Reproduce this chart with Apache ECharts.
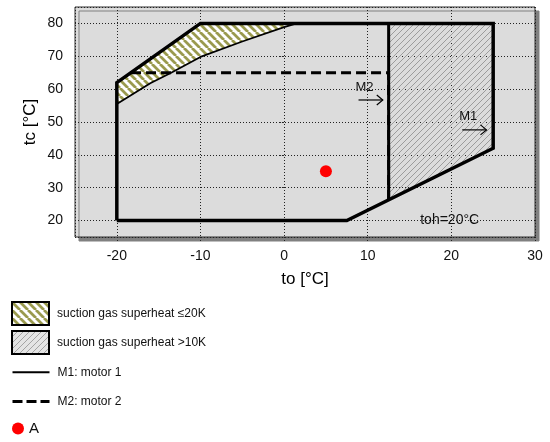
<!DOCTYPE html>
<html>
<head>
<meta charset="utf-8">
<script src="https://cdn.jsdelivr.net/npm/echarts@6/dist/echarts.min.js"></script>
<style>
  html, body { margin: 0; padding: 0; background: #fff; }
  #chart { width: 550px; height: 442px; }
</style>
</head>
<body>
<div id="chart"></div>
<script>
// axis ranges
const xRange = [-25, 30]
const yRange = [15, 85]

// envelope of motor 1 (closed), motor 2 limit, divider of the >10K area
const motor1 = [[-20, 20], [-20, 62], [-10, 80], [25, 80], [25, 42], [7.5, 20], [-20, 20]]
const motor2 = [[-18.3, 65], [12.5, 65], [12.5, 26.3]]
const divider = [[12.5, 80], [12.5, 26.3]]
// superheat <=20K band: upper edge follows the envelope, lower edge is a curve
const band20Upper = [[-20, 62], [-10, 80], [1.5, 80]]
const band20Curve = [[-20, 55.5], [-16, 61.8], [-13.5, 65], [-10, 69.8], [-5, 74.5], [0, 78.9], [1.5, 80]]
// superheat >10K area
const band10 = [[12.5, 80], [25, 80], [25, 42], [12.5, 26.3]]
// operating point A
const pointA = [[5, 35]]
// annotations: arrow start / end and their labels
const arrowLabels = ['M2', 'M1']
const arrowFrom = [[8.9, 56.7], [21.3, 47.6]]
const arrowTo = [[11.8, 56.7], [24.2, 47.6]]
const noteText = 'toh=20°C'
const notePos = [19.8, 20]

const FONT = 'Liberation Sans, Arial, sans-serif'

// diagonal hatch pattern on a small canvas
function makeHatch (bg, fg, size, lw, dir) {
  const c = document.createElement('canvas')
  c.width = size
  c.height = size
  const ctx = c.getContext('2d')
  if (bg) {
    ctx.fillStyle = bg
    ctx.fillRect(0, 0, size, size)
  }
  ctx.strokeStyle = fg
  ctx.lineWidth = lw
  ctx.beginPath()
  for (let k = -1; k <= 1; k++) {
    if (dir === '\\') {
      ctx.moveTo(k * size, 0)
      ctx.lineTo(k * size + size, size)
    } else {
      ctx.moveTo(k * size, size)
      ctx.lineTo(k * size + size, 0)
    }
  }
  ctx.stroke()
  return { image: c, repeat: 'repeat' }
}

const oliveHatch = makeHatch('#ffffff', '#9a9a4e', 8, 2.8, '\\')
const greyHatch = makeHatch(null, '#9c9c9c', 6, 1, '/')
const greyHatchLegend = makeHatch('#e4e4e4', '#a4a4a4', 6, 1, '/')

const band20Poly = band20Upper.concat(band20Curve.slice().reverse())

function polygonSeries (name, pts, fill) {
  return {
    name: name,
    type: 'custom',
    coordinateSystem: 'cartesian2d',
    data: pts,
    encode: { x: 0, y: 1 },
    itemStyle: { color: fill, borderColor: '#000', borderWidth: 2 },
    z: 1,
    silent: true,
    renderItem: function (params, api) {
      if (params.dataIndex !== 0) return
      return {
        type: 'polygon',
        shape: { points: pts.map(p => api.coord(p)) },
        style: { fill: fill, stroke: null }
      }
    }
  }
}

const chart = echarts.init(document.getElementById('chart'), null, { renderer: 'canvas' })

const legendText = { fontSize: 12, color: '#111', fontFamily: FONT, padding: [0, 0, 0, 3] }
const hiddenSymbol = { color: 'rgba(0,0,0,0)', borderColor: 'rgba(0,0,0,0)', borderWidth: 0 }

const option = {
  animation: false,
  textStyle: { fontFamily: FONT },
  grid: {
    left: 75,
    top: 7,
    right: 15,
    bottom: 205,
    show: true,
    backgroundColor: '#dcdcdc',
    borderColor: '#333',
    borderWidth: 1,
    shadowColor: '#808080',
    shadowOffsetX: 4,
    shadowOffsetY: 4,
    shadowBlur: 0
  },
  xAxis: {
    type: 'value',
    min: xRange[0],
    max: xRange[1],
    name: 'to [°C]',
    nameLocation: 'middle',
    nameGap: 34,
    nameTextStyle: { fontSize: 17, color: '#000', fontFamily: FONT },
    axisLine: { show: false },
    axisTick: { show: true, length: 4, lineStyle: { color: '#222', type: [1, 2] } },
    axisLabel: { fontSize: 14, color: '#111', margin: 12, showMinLabel: false, fontFamily: FONT },
    splitLine: { show: true, lineStyle: { color: '#222', type: [1, 2], width: 1 } }
  },
  yAxis: {
    type: 'value',
    min: yRange[0],
    max: yRange[1],
    name: 'tc [°C]',
    nameLocation: 'middle',
    nameGap: 36,
    nameMoveOverlap: false,
    nameTextStyle: { fontSize: 17, color: '#000', fontFamily: FONT },
    axisLine: { show: false },
    axisTick: { show: true, length: 4, lineStyle: { color: '#222', type: [1, 2] } },
    axisLabel: { fontSize: 14, color: '#111', margin: 12, showMinLabel: false, showMaxLabel: false, fontFamily: FONT },
    splitLine: { show: true, lineStyle: { color: '#222', type: [1, 2], width: 1 } }
  },
  legend: [
    {
      orient: 'vertical',
      left: 6,
      top: 296,
      itemWidth: 37,
      itemHeight: 23,
      itemGap: 4,
      selectedMode: false,
      textStyle: legendText,
      data: [
        { name: 'suction gas superheat ≤20K', icon: 'rect', itemStyle: { color: oliveHatch, borderColor: '#000', borderWidth: 2 } },
        { name: 'suction gas superheat >10K', icon: 'rect', itemStyle: { color: greyHatchLegend, borderColor: '#000', borderWidth: 2 } }
      ]
    },
    {
      orient: 'vertical',
      left: 6,
      top: 358,
      itemWidth: 37,
      itemHeight: 23,
      itemGap: 11,
      selectedMode: false,
      textStyle: legendText,
      data: [
        { name: 'M1: motor 1', itemStyle: hiddenSymbol, lineStyle: { color: '#000', width: 2, type: 'solid' } },
        { name: 'M2: motor 2', itemStyle: hiddenSymbol, lineStyle: { color: '#000', width: 3, type: [10, 4] } }
      ]
    },
    {
      orient: 'vertical',
      left: 7,
      top: 416,
      itemWidth: 12,
      itemHeight: 12,
      selectedMode: false,
      textStyle: { fontSize: 15, color: '#111', fontFamily: FONT },
      data: [{ name: 'A', icon: 'circle' }]
    }
  ],
  series: [
    polygonSeries('suction gas superheat ≤20K', band20Poly, oliveHatch),
    polygonSeries('suction gas superheat >10K', band10, greyHatch),
    {
      name: 'curve20',
      type: 'line',
      data: band20Curve,
      symbol: 'none',
      z: 3,
      lineStyle: { color: '#000', width: 1.8 }
    },
    {
      name: 'M2: motor 2',
      type: 'line',
      data: motor2,
      symbol: 'none',
      z: 4,
      itemStyle: { color: '#000' },
      lineStyle: { color: '#000', width: 3, type: [10, 5] }
    },
    {
      name: 'divider',
      type: 'line',
      data: divider,
      symbol: 'none',
      z: 4,
      lineStyle: { color: '#000', width: 3 }
    },
    {
      name: 'M1: motor 1',
      type: 'line',
      data: motor1,
      symbol: 'none',
      z: 5,
      itemStyle: { color: '#000' },
      lineStyle: { color: '#000', width: 3.5, join: 'miter' }
    },
    {
      name: 'A',
      type: 'scatter',
      data: pointA,
      symbol: 'circle',
      symbolSize: 12,
      z: 6,
      itemStyle: { color: '#ff0000', opacity: 1 }
    },
    {
      name: 'notes',
      type: 'custom',
      data: [notePos],
      encode: { x: 0, y: 1 },
      z: 7,
      silent: true,
      renderItem: function (params, api) {
        const children = []
        arrowLabels.forEach((label, i) => {
          const a = api.coord(arrowFrom[i])
          const b = api.coord(arrowTo[i])
          children.push({
            type: 'polyline',
            shape: { points: [a, b] },
            style: { stroke: '#000', lineWidth: 1.2, fill: null }
          })
          children.push({
            type: 'polyline',
            shape: { points: [[b[0] - 6, b[1] - 5], b, [b[0] - 6, b[1] + 5]] },
            style: { stroke: '#000', lineWidth: 1.2, fill: null }
          })
          children.push({
            type: 'text',
            style: {
              text: label,
              x: a[0] - 3,
              y: a[1] - 13,
              fill: '#111',
              fontSize: 13,
              fontFamily: FONT,
              align: 'left',
              verticalAlign: 'middle'
            }
          })
        })
        const n = api.coord(notePos)
        children.push({
          type: 'text',
          style: {
            text: noteText,
            x: n[0],
            y: n[1],
            fill: '#111',
            fontSize: 14,
            fontFamily: FONT,
            align: 'center',
            verticalAlign: 'middle'
          }
        })
        return { type: 'group', children: children }
      }
    }
  ]
}

chart.setOption(option)
</script>
</body>
</html>
